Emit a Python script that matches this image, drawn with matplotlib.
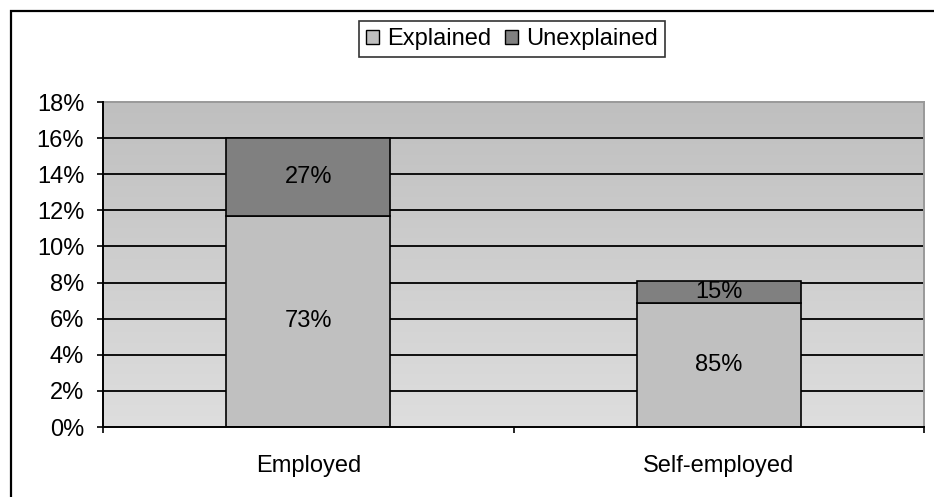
import numpy as np
import matplotlib.pyplot as plt
from matplotlib.patches import Rectangle, Patch
from matplotlib.colors import LinearSegmentedColormap

plt.rcParams['font.family'] = ['Liberation Sans', 'DejaVu Sans']

categories = ["Employed", "Self-employed"]
explained = [11.7, 6.85]
unexplained = [4.3, 1.23]
y_ticks = [0, 2, 4, 6, 8, 10, 12, 14, 16, 18]

FS = 17

fig = plt.figure(figsize=(9.34, 4.97), dpi=100)
ax = fig.add_axes([103 / 934, 1 - 427 / 497, (924 - 103) / 934, (427 - 102) / 497])

# outer chart frame (left and top edges show)
fig.patches.append(Rectangle((11 / 934, -0.1), 1.2, 1 - 11 / 497 + 0.1,
                             transform=fig.transFigure, fill=False,
                             edgecolor='black', linewidth=1.6))

x = np.arange(len(categories))
ax.set_xlim(-0.5, 1.5)
ax.set_ylim(0, 18)

# vertical grey gradient behind the bars
grad = np.linspace(0, 1, 256).reshape(-1, 1)
bg = LinearSegmentedColormap.from_list('bg', ['#dedede', '#bfbfbf'])
ax.imshow(grad, extent=[-0.5, 1.5, 0, 18], origin='lower', aspect='auto',
          cmap=bg, zorder=0)

for t in y_ticks[1:-1]:
    ax.axhline(t, color='black', linewidth=1.3, zorder=1)

width = 0.4
ax.bar(x, explained, width, color='#c0c0c0', edgecolor='black',
       linewidth=1.2, zorder=2, label='Explained')
ax.bar(x, unexplained, width, bottom=explained, color='#808080',
       edgecolor='black', linewidth=1.2, zorder=2, label='Unexplained')

for i in range(len(categories)):
    total = explained[i] + unexplained[i]
    ax.text(x[i], explained[i] / 2, f"{explained[i] / total * 100:.0f}%",
            ha='center', va='center', fontsize=FS, zorder=3)
    ax.text(x[i], explained[i] + unexplained[i] / 2,
            f"{unexplained[i] / total * 100:.0f}%",
            ha='center', va='center', fontsize=FS, zorder=3)

ax.set_yticks(y_ticks)
ax.set_yticklabels([f"{t}%" for t in y_ticks], fontsize=FS)
ax.set_xticks([-0.5, 0.5, 1.5])
ax.set_xticklabels([])
ax.set_xticks(x, minor=True)
ax.set_xticklabels(categories, minor=True, fontsize=FS)
ax.tick_params(axis='x', which='minor', length=0, pad=20)
ax.tick_params(axis='x', which='major', length=4.5, width=1.2, direction='out')
ax.tick_params(axis='y', length=4.5, width=1.2, direction='out', pad=9)

for side in ['left', 'bottom']:
    ax.spines[side].set_linewidth(1.4)
    ax.spines[side].set_zorder(4)
for side in ['top', 'right']:
    ax.spines[side].set_color('#999999')
    ax.spines[side].set_linewidth(1.4)

handles = [Patch(facecolor='#c0c0c0', edgecolor='black', label='Explained'),
           Patch(facecolor='#808080', edgecolor='black', label='Unexplained')]
leg = fig.legend(handles=handles, loc='center', bbox_to_anchor=(512 / 934, 1 - 39 / 497),
                 ncol=2, fontsize=FS, frameon=True, fancybox=False,
                 handlelength=0.55, handleheight=0.55, handletextpad=0.35,
                 columnspacing=0.6, borderpad=0.3, borderaxespad=0)
leg.get_frame().set_edgecolor('black')
leg.get_frame().set_linewidth(1.2)

fig.savefig('out.png', dpi=100)
